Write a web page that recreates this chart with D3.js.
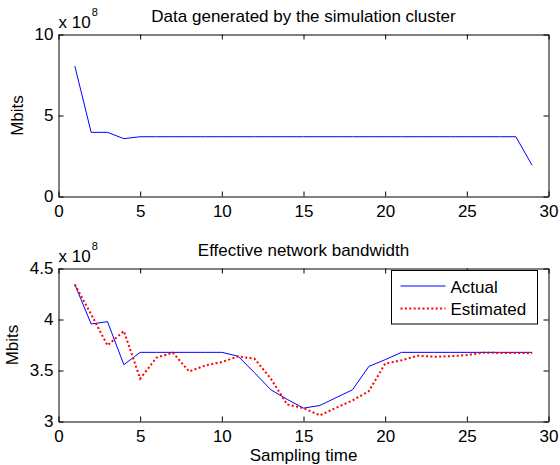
<!DOCTYPE html>
<html>
<head>
<meta charset="utf-8">
<script src="https://cdn.jsdelivr.net/npm/d3@7"></script>
<style>
  body { margin: 0; background: #fff; }
  svg { display: block; }
  text { font-family: "Liberation Sans", Arial, sans-serif; fill: #000; }
</style>
</head>
<body>
<svg id="chart" width="560" height="465"></svg>
<script>
"use strict";

// sampling instants (x axis)
var sampleTimes = [1, 2, 3, 4, 5, 6, 7, 8, 9, 10, 11, 12, 13, 14, 15,
  16, 17, 18, 19, 20, 21, 22, 23, 24, 25, 26, 27, 28, 29];

// data generated by the simulation cluster, in units of 1e8 Mbits
var generatedData = [8.05, 3.96, 3.96, 3.57, 3.69, 3.69, 3.69, 3.69, 3.69, 3.69,
  3.69, 3.69, 3.69, 3.69, 3.69, 3.69, 3.69, 3.69, 3.69, 3.69,
  3.69, 3.69, 3.69, 3.69, 3.69, 3.69, 3.69, 3.69, 1.92];

// effective network bandwidth, in units of 1e8 Mbits
var actualBandwidth = [4.343, 3.956, 3.979, 3.557, 3.678, 3.678, 3.678, 3.678, 3.678, 3.678,
  3.640, 3.478, 3.311, 3.217, 3.131, 3.157, 3.234, 3.311, 3.540, 3.606,
  3.678, 3.678, 3.678, 3.678, 3.678, 3.678, 3.678, 3.678, 3.678];
var estimatedBandwidth = [4.343, 4.050, 3.746, 3.887, 3.420, 3.626, 3.675, 3.490, 3.550, 3.583,
  3.638, 3.616, 3.420, 3.167, 3.131, 3.060, 3.135, 3.206, 3.298, 3.567,
  3.600, 3.645, 3.635, 3.640, 3.651, 3.675, 3.672, 3.672, 3.669];

var xTicks = [0, 5, 10, 15, 20, 25, 30];
var yTicksTop = [0, 5, 10];
var yTicksBottom = [3, 3.5, 4, 4.5];
var legendLabels = ["Actual", "Estimated"];

var svg = d3.select("#chart");
var plotLeft = 58.5, plotRight = 548.5;
var FONT = 17;

var x = d3.scaleLinear().domain([0, 30]).range([plotLeft, plotRight]);

var styleAxis = function(g) {
  g.select(".domain").attr("stroke", "#000").attr("stroke-width", 1);
  g.selectAll(".tick line").attr("stroke", "#000");
  g.selectAll(".tick text")
    .attr("font-family", "'Liberation Sans', Arial, sans-serif")
    .attr("font-size", FONT)
    .attr("fill", "#000");
};

var drawPanel = function(opts) {
  var y = d3.scaleLinear().domain(opts.yDomain).range([opts.bottom, opts.top]);
  var g = svg.append("g");

  g.append("g").attr("transform", "translate(0," + opts.bottom + ")")
    .call(d3.axisBottom(x).tickValues(xTicks).tickSize(-5).tickSizeOuter(0).tickPadding(8))
    .call(styleAxis);
  g.append("g").attr("transform", "translate(0," + opts.top + ")")
    .call(d3.axisTop(x).tickValues(xTicks).tickSize(-5).tickSizeOuter(0).tickFormat(""))
    .call(styleAxis);
  g.append("g").attr("transform", "translate(" + plotLeft + ",0)")
    .call(d3.axisLeft(y).tickValues(opts.yTicks).tickSize(-5).tickSizeOuter(0)
      .tickPadding(5).tickFormat(function(d) { return d; }))
    .call(styleAxis);
  g.append("g").attr("transform", "translate(" + plotRight + ",0)")
    .call(d3.axisRight(y).tickValues(opts.yTicks).tickSize(-5).tickSizeOuter(0).tickFormat(""))
    .call(styleAxis);

  // exponent label
  var expo = g.append("text")
    .attr("x", plotLeft)
    .attr("y", opts.top - 7)
    .attr("font-size", FONT);
  expo.append("tspan").text("x 10");
  expo.append("tspan").attr("font-size", 11).attr("dx", 1).attr("dy", -12).text("8");

  g.append("text")
    .attr("x", (plotLeft + plotRight) / 2)
    .attr("y", opts.top - 12.5)
    .attr("text-anchor", "middle")
    .attr("font-size", FONT)
    .text(opts.title);

  g.append("text")
    .attr("transform", "translate(" + opts.ylabelX + "," + ((opts.top + opts.bottom) / 2) + ") rotate(-90)")
    .attr("text-anchor", "middle")
    .attr("font-size", FONT)
    .text("Mbits");

  var line = d3.line()
    .x(function(d) { return x(d[0]); })
    .y(function(d) { return y(d[1]); });

  opts.series.forEach(function(s) {
    g.append("path")
      .datum(d3.zip(sampleTimes, s.values))
      .attr("fill", "none")
      .attr("stroke", s.color)
      .attr("stroke-width", s.width)
      .attr("stroke-dasharray", s.dash)
      .attr("d", line);
  });

  return g;
};

var seriesActual = { values: actualBandwidth, color: "#0000ff", width: 1, dash: null };
var seriesEstimated = { values: estimatedBandwidth, color: "#ff0000", width: 2, dash: "2,2.4" };

drawPanel({
  top: 34.5, bottom: 196.5, yDomain: [0, 10], yTicks: yTicksTop,
  title: "Data generated by the simulation cluster", ylabelX: 23,
  series: [{ values: generatedData, color: "#0000ff", width: 1, dash: null }]
});

var bottomPanel = drawPanel({
  top: 268.5, bottom: 421.5, yDomain: [3, 4.5], yTicks: yTicksBottom,
  title: "Effective network bandwidth", ylabelX: 18,
  series: [seriesActual, seriesEstimated]
});

svg.append("text")
  .attr("x", (plotLeft + plotRight) / 2)
  .attr("y", 460.5)
  .attr("text-anchor", "middle")
  .attr("font-size", FONT)
  .text("Sampling time");

// legend
var legend = bottomPanel.append("g").attr("transform", "translate(391.5,270.5)");
legend.append("rect")
  .attr("width", 146).attr("height", 53.5)
  .attr("fill", "#fff").attr("stroke", "#000").attr("stroke-width", 1);

[seriesActual, seriesEstimated].forEach(function(s, i) {
  var ly = 15.5 + i * 22.5;
  legend.append("line")
    .attr("x1", 9).attr("x2", 54)
    .attr("y1", ly).attr("y2", ly)
    .attr("stroke", s.color)
    .attr("stroke-width", s.width)
    .attr("stroke-dasharray", s.dash);
  legend.append("text")
    .attr("x", 59)
    .attr("y", ly + 6.5)
    .attr("font-size", 17)
    .text(legendLabels[i]);
});
</script>
</body>
</html>
